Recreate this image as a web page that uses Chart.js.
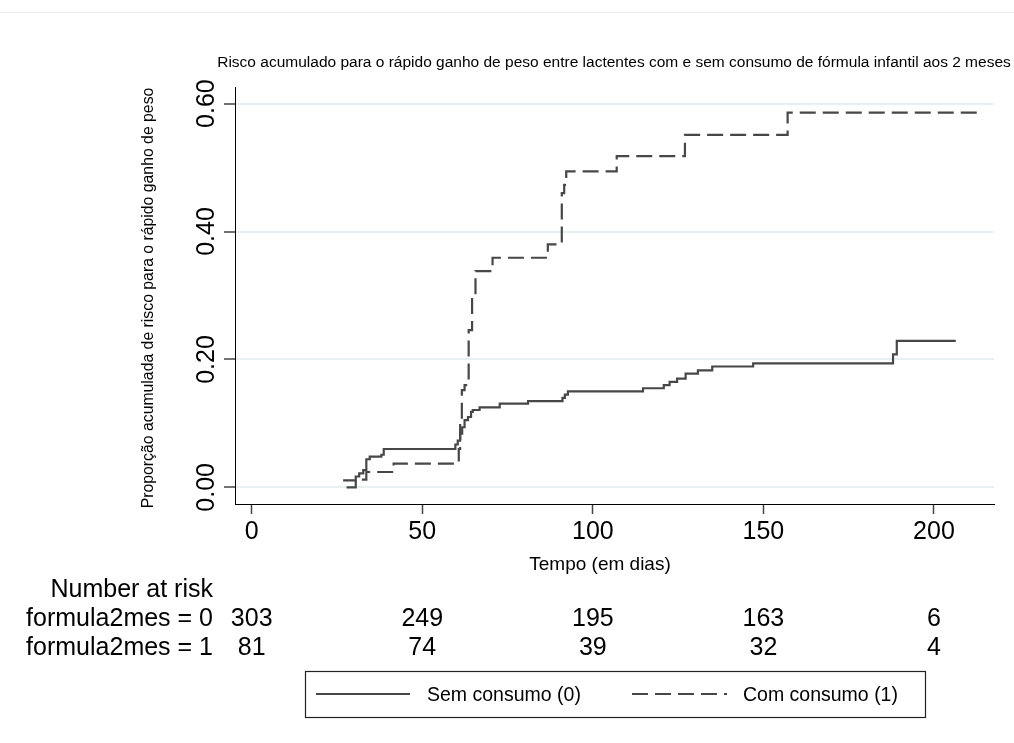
<!DOCTYPE html>
<html>
<head>
<meta charset="utf-8">
<script src="https://cdn.jsdelivr.net/npm/chart.js@4/dist/chart.umd.min.js"></script>
<style>
  html, body { margin: 0; padding: 0; background: #fff; }
  #wrap { width: 1014px; height: 743px; }
</style>
</head>
<body>
<div id="wrap"><canvas id="km" width="1014" height="743"></canvas></div>
<script>
// dados (tempo em dias, proporção acumulada)
const semDays = [26.8, 30.5, 31.5, 32.7, 33.6, 34.6, 38.0, 38.7, 59.7, 60.4, 61.1, 61.7, 62.4, 63.4, 64.3, 64.8, 66.8, 72.7, 81.0, 91.1, 91.8, 92.7, 114.7, 120.8, 122.5, 124.7, 127.2, 130.8, 135.0, 147.0, 188.0, 189.1, 206.4];
const semRisk = [0.011, 0.017, 0.022, 0.027, 0.044, 0.048, 0.051, 0.060, 0.067, 0.073, 0.084, 0.094, 0.105, 0.110, 0.118, 0.121, 0.125, 0.131, 0.135, 0.140, 0.145, 0.150, 0.155, 0.160, 0.165, 0.170, 0.178, 0.183, 0.189, 0.194, 0.208, 0.229, 0.229];
const comDays = [27.8, 30.5, 33.6, 41.6, 60.7, 61.1, 61.6, 62.4, 63.6, 64.6, 65.6, 70.6, 86.8, 90.9, 91.6, 92.2, 107.0, 127.0, 157.1, 212.9];
const comRisk = [0.0, 0.012, 0.024, 0.037, 0.060, 0.100, 0.152, 0.160, 0.246, 0.300, 0.338, 0.359, 0.380, 0.460, 0.473, 0.494, 0.518, 0.551, 0.586, 0.586];

const seriesNames = ['Sem consumo (0)', 'Com consumo (1)'];
const groupLabels = ['formula2mes = 0', 'formula2mes = 1'];
const xTicks = [0, 50, 100, 150, 200];
const yTicks = [0, 0.2, 0.4, 0.6];
const yTickLabels = ['0.00', '0.20', '0.40', '0.60'];
const riskTimes = [0, 50, 100, 150, 200];
const atRisk0 = [303, 249, 195, 163, 6];
const atRisk1 = [81, 74, 39, 32, 4];

const titleText = 'Risco acumulado para o rápido ganho de peso entre lactentes com e sem consumo de fórmula infantil aos 2 meses';
const yTitle = 'Proporção acumulada de risco para o rápido ganho de peso';
const xTitle = 'Tempo (em dias)';

const FONT = '"Liberation Sans", Arial, sans-serif';
const LINE = '#474747';

function toPoints(xs, ys) {
  return xs.map((x, i) => ({ x, y: ys[i] }));
}

function drawText(ctx, txt, x, y, size, align) {
  ctx.save();
  ctx.font = `${size}px ${FONT}`;
  ctx.textAlign = align;
  ctx.textBaseline = 'alphabetic';
  ctx.fillStyle = '#000';
  ctx.fillText(txt, x, y);
  ctx.restore();
}

// plugin para títulos, rótulos girados, tabela "Number at risk" e legenda
const extras = {
  id: 'extras',
  afterDraw(chart) {
    const { ctx, scales: { x, y } } = chart;

    // linha fina no topo
    ctx.save();
    ctx.strokeStyle = '#eeeeee';
    ctx.lineWidth = 1;
    ctx.beginPath();
    ctx.moveTo(0, 12.5);
    ctx.lineTo(1014, 12.5);
    ctx.stroke();
    ctx.restore();

    drawText(ctx, titleText, 614, 67, 15.5, 'center');

    // rótulos do eixo y girados
    yTicks.forEach((v, i) => {
      ctx.save();
      ctx.translate(214, y.getPixelForValue(v));
      ctx.rotate(-Math.PI / 2);
      ctx.font = `25px ${FONT}`;
      ctx.textAlign = 'center';
      ctx.fillStyle = '#000';
      ctx.fillText(yTickLabels[i], 0, 0);
      ctx.restore();
    });

    ctx.save();
    ctx.translate(153, 298);
    ctx.rotate(-Math.PI / 2);
    ctx.font = `15.8px ${FONT}`;
    ctx.textAlign = 'center';
    ctx.fillStyle = '#000';
    ctx.fillText(yTitle, 0, 0);
    ctx.restore();

    drawText(ctx, xTitle, 600, 570, 19, 'center');

    // tabela de número em risco
    drawText(ctx, 'Number at risk', 213, 597, 25, 'right');
    drawText(ctx, groupLabels[0], 213, 626, 25, 'right');
    drawText(ctx, groupLabels[1], 213, 655, 25, 'right');
    riskTimes.forEach((t, i) => {
      const px = x.getPixelForValue(t);
      drawText(ctx, String(atRisk0[i]), px, 626, 25, 'center');
      drawText(ctx, String(atRisk1[i]), px, 655, 25, 'center');
    });

    // legenda
    ctx.save();
    ctx.strokeStyle = '#222';
    ctx.lineWidth = 1.2;
    ctx.strokeRect(305.5, 671.5, 620, 46);
    const items = [
      { x0: 316, x1: 410, tx: 427 },
      { x0: 632, x1: 727, tx: 743 },
    ];
    chart.data.datasets.forEach((ds, i) => {
      const it = items[i];
      ctx.strokeStyle = ds.borderColor;
      ctx.lineWidth = ds.borderWidth;
      ctx.setLineDash(ds.borderDash || []);
      ctx.beginPath();
      ctx.moveTo(it.x0, 694);
      ctx.lineTo(it.x1, 694);
      ctx.stroke();
      ctx.setLineDash([]);
      drawText(ctx, seriesNames[i], it.tx, 701, 19.5, 'left');
    });
    ctx.restore();
  },
};

const data = {
  datasets: [
    {
      label: seriesNames[0],
      data: toPoints(semDays, semRisk),
      borderColor: LINE,
      borderWidth: 2.2,
      stepped: 'before',
      pointRadius: 0,
      fill: false,
    },
    {
      label: seriesNames[1],
      data: toPoints(comDays, comRisk),
      borderColor: LINE,
      borderWidth: 2.2,
      borderDash: [16, 7],
      stepped: 'before',
      pointRadius: 0,
      fill: false,
    },
  ],
};

const chart = new Chart(document.getElementById('km'), {
  type: 'line',
  data,
  options: {
    responsive: false,
    animation: false,
    devicePixelRatio: 1,
    layout: { padding: { top: 87, right: 20, left: 0, bottom: 0 } },
    plugins: {
      legend: { display: false },
      title: { display: false },
      tooltip: { enabled: false },
    },
    scales: {
      x: {
        type: 'linear',
        min: -4.9,
        max: 217.6,
        afterBuildTicks: (s) => { s.ticks = xTicks.map((v) => ({ value: v })); },
        afterFit: (s) => { s.height = 239; },
        ticks: {
          color: '#000',
          font: { family: FONT, size: 25 },
          padding: 3,
          maxRotation: 0,
        },
        grid: {
          drawOnChartArea: false,
          tickLength: 10,
          tickColor: '#444',
          tickWidth: 1.5,
        },
        border: { color: '#000', width: 1 },
      },
      y: {
        min: -0.026,
        max: 0.626,
        afterBuildTicks: (s) => { s.ticks = yTicks.map((v) => ({ value: v })); },
        afterFit: (s) => { s.width = 235; },
        ticks: { display: false },
        grid: {
          color: '#e8f0f2',
          lineWidth: 2,
          tickLength: 11,
          tickColor: '#444',
          tickWidth: 1.5,
        },
        border: { color: '#000', width: 1 },
      },
    },
  },
  plugins: [extras],
});
</script>
</body>
</html>
